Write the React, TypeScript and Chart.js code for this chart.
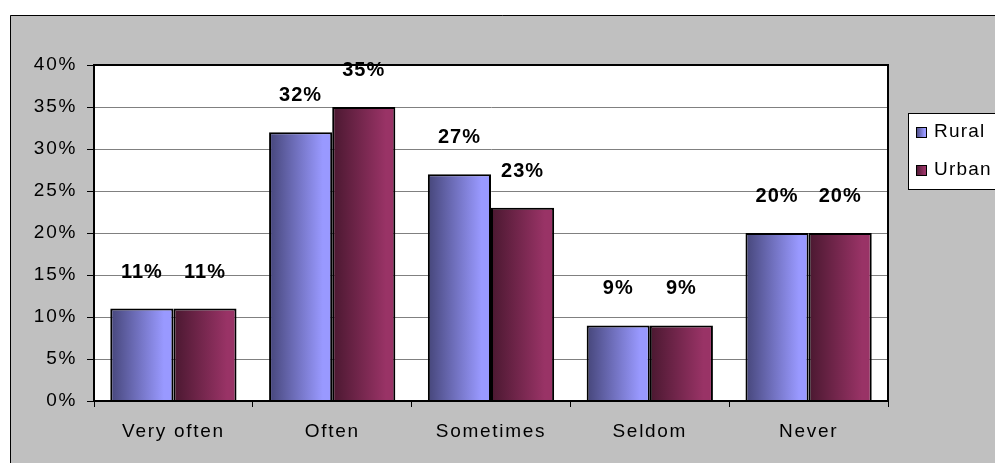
import React, { useEffect, useRef } from "react";
import { Chart, registerables } from "chart.js";

Chart.register(...registerables);

const categories = ["Very often", "Often", "Sometimes", "Seldom", "Never"];
const ruralValues = [11, 32, 27, 9, 20];
const urbanValues = [11, 35, 23, 9, 20];
const seriesNames = ["Rural", "Urban"];
const yTicks = [0, 5, 10, 15, 20, 25, 30, 35, 40];

const FONT = "'Liberation Sans', Arial, sans-serif";
const W = 995;
const H = 463;

// dark-to-light horizontal shading for each series
const shades = [
  { dark: "#46467a", light: "#9999ff" },
  { dark: "#4a1830", light: "#993366" },
];

function hGradient(ctx: CanvasRenderingContext2D, x0: number, x1: number, i: number) {
  const g = ctx.createLinearGradient(x0, 0, x1, 0);
  g.addColorStop(0, shades[i].dark);
  g.addColorStop(0.85, shades[i].light);
  g.addColorStop(1, shades[i].light);
  return g;
}

const backdrop = {
  id: "backdrop",
  beforeDraw(chart: any) {
    const { ctx, chartArea: a } = chart;
    // wider letter spacing for all axis text
    (ctx as any).letterSpacing = "1.7px";
    ctx.save();
    ctx.fillStyle = "#ffffff";
    ctx.fillRect(0, 0, W, H);
    ctx.fillStyle = "#c0c0c0";
    ctx.fillRect(10, 15, W, H);
    ctx.strokeStyle = "#000";
    ctx.lineWidth = 1;
    ctx.beginPath();
    ctx.moveTo(10.5, H);
    ctx.lineTo(10.5, 15.5);
    ctx.lineTo(W, 15.5);
    ctx.stroke();
    ctx.fillStyle = "#ffffff";
    ctx.fillRect(a.left, a.top, a.right - a.left, a.bottom - a.top);
    ctx.restore();
  },
  beforeDatasetsDraw(chart: any) {
    const ctx = chart.ctx;
    chart.data.datasets.forEach((_: any, di: number) => {
      const meta = chart.getDatasetMeta(di);
      meta.data.forEach((el: any) => {
        const half = el.width / 2;
        el.options = {
          ...el.options,
          backgroundColor: hGradient(ctx, el.x - half, el.x + half, di),
        };
      });
    });
  },
  afterDatasetsDraw(chart: any) {
    const { ctx, chartArea: a } = chart;
    ctx.save();
    // plot frame
    ctx.strokeStyle = "#000";
    ctx.lineWidth = 2;
    ctx.strokeRect(a.left, a.top, a.right - a.left, a.bottom - a.top);

    // value labels above the bars
    ctx.fillStyle = "#000";
    ctx.font = `bold 20px ${FONT}`;
    (ctx as any).letterSpacing = "1px";
    ctx.textAlign = "center";
    ctx.textBaseline = "alphabetic";
    chart.data.datasets.forEach((ds: any, di: number) => {
      const meta = chart.getDatasetMeta(di);
      meta.data.forEach((el: any, i: number) => {
        ctx.fillText(`${ds.data[i]}%`, el.x, el.y - 31);
      });
    });

    // legend box
    const lx = 908.5;
    const ly = 113.5;
    ctx.fillStyle = "#ffffff";
    ctx.fillRect(lx, ly, 120, 76);
    ctx.strokeStyle = "#000";
    ctx.lineWidth = 1;
    ctx.strokeRect(lx, ly, 120, 76);
    ctx.font = `19px ${FONT}`;
    (ctx as any).letterSpacing = "1.2px";
    ctx.textAlign = "left";
    ctx.textBaseline = "middle";
    chart.data.datasets.forEach((ds: any, di: number) => {
      const sy = 127 + di * 38;
      ctx.fillStyle = hGradient(ctx, 916, 926, di);
      ctx.fillRect(916, sy, 10, 10);
      ctx.strokeStyle = "#000";
      ctx.strokeRect(916.5, sy + 0.5, 10, 10);
      ctx.fillStyle = "#000";
      ctx.fillText(ds.label, 934, sy + 5);
    });
    ctx.restore();
  },
};

export default function App() {
  const ref = useRef<HTMLCanvasElement | null>(null);

  useEffect(() => {
    if (!ref.current) return;
    const chart = new Chart(ref.current, {
      type: "bar",
      data: {
        labels: categories,
        datasets: [
          {
            label: seriesNames[0],
            data: ruralValues,
            backgroundColor: shades[0].light,
            borderColor: "#000",
            borderWidth: 2,
          },
          {
            label: seriesNames[1],
            data: urbanValues,
            backgroundColor: shades[1].light,
            borderColor: "#000",
            borderWidth: 2,
          },
        ],
      },
      options: {
        responsive: false,
        animation: false,
        devicePixelRatio: 1,
        layout: { padding: { left: 0, top: 65, right: W - 888, bottom: 0 } },
        datasets: { bar: { categoryPercentage: 0.795, barPercentage: 1 } },
        plugins: { legend: { display: false }, tooltip: { enabled: false } },
        scales: {
          x: {
            grid: {
              offset: true,
              drawOnChartArea: false,
              drawTicks: true,
              tickLength: 6,
              tickColor: "#000",
            },
            border: { display: true, color: "#000", width: 2 },
            ticks: { color: "#000", font: { family: FONT, size: 19 }, padding: 13 },
            afterFit(scale: any) {
              scale.height = H - 401;
            },
          },
          y: {
            min: 0,
            max: 40,
            afterBuildTicks(scale: any) {
              scale.ticks = yTicks.map((v) => ({ value: v }));
            },
            grid: {
              color: "#808080",
              lineWidth: 1,
              drawTicks: true,
              tickLength: 7,
              tickColor: "#000",
            },
            border: { display: true, color: "#000", width: 2 },
            ticks: {
              color: "#000",
              font: { family: FONT, size: 19 },
              padding: 10,
              callback: (v: any) => `${v}%`,
            },
            afterFit(scale: any) {
              scale.width = 94;
            },
          },
        },
      },
      plugins: [backdrop],
    });
    return () => chart.destroy();
  }, []);

  return (
    <div style={{ position: "fixed", left: 0, top: 0, width: W, height: H }}>
      <canvas ref={ref} width={W} height={H} style={{ display: "block" }} />
    </div>
  );
}
